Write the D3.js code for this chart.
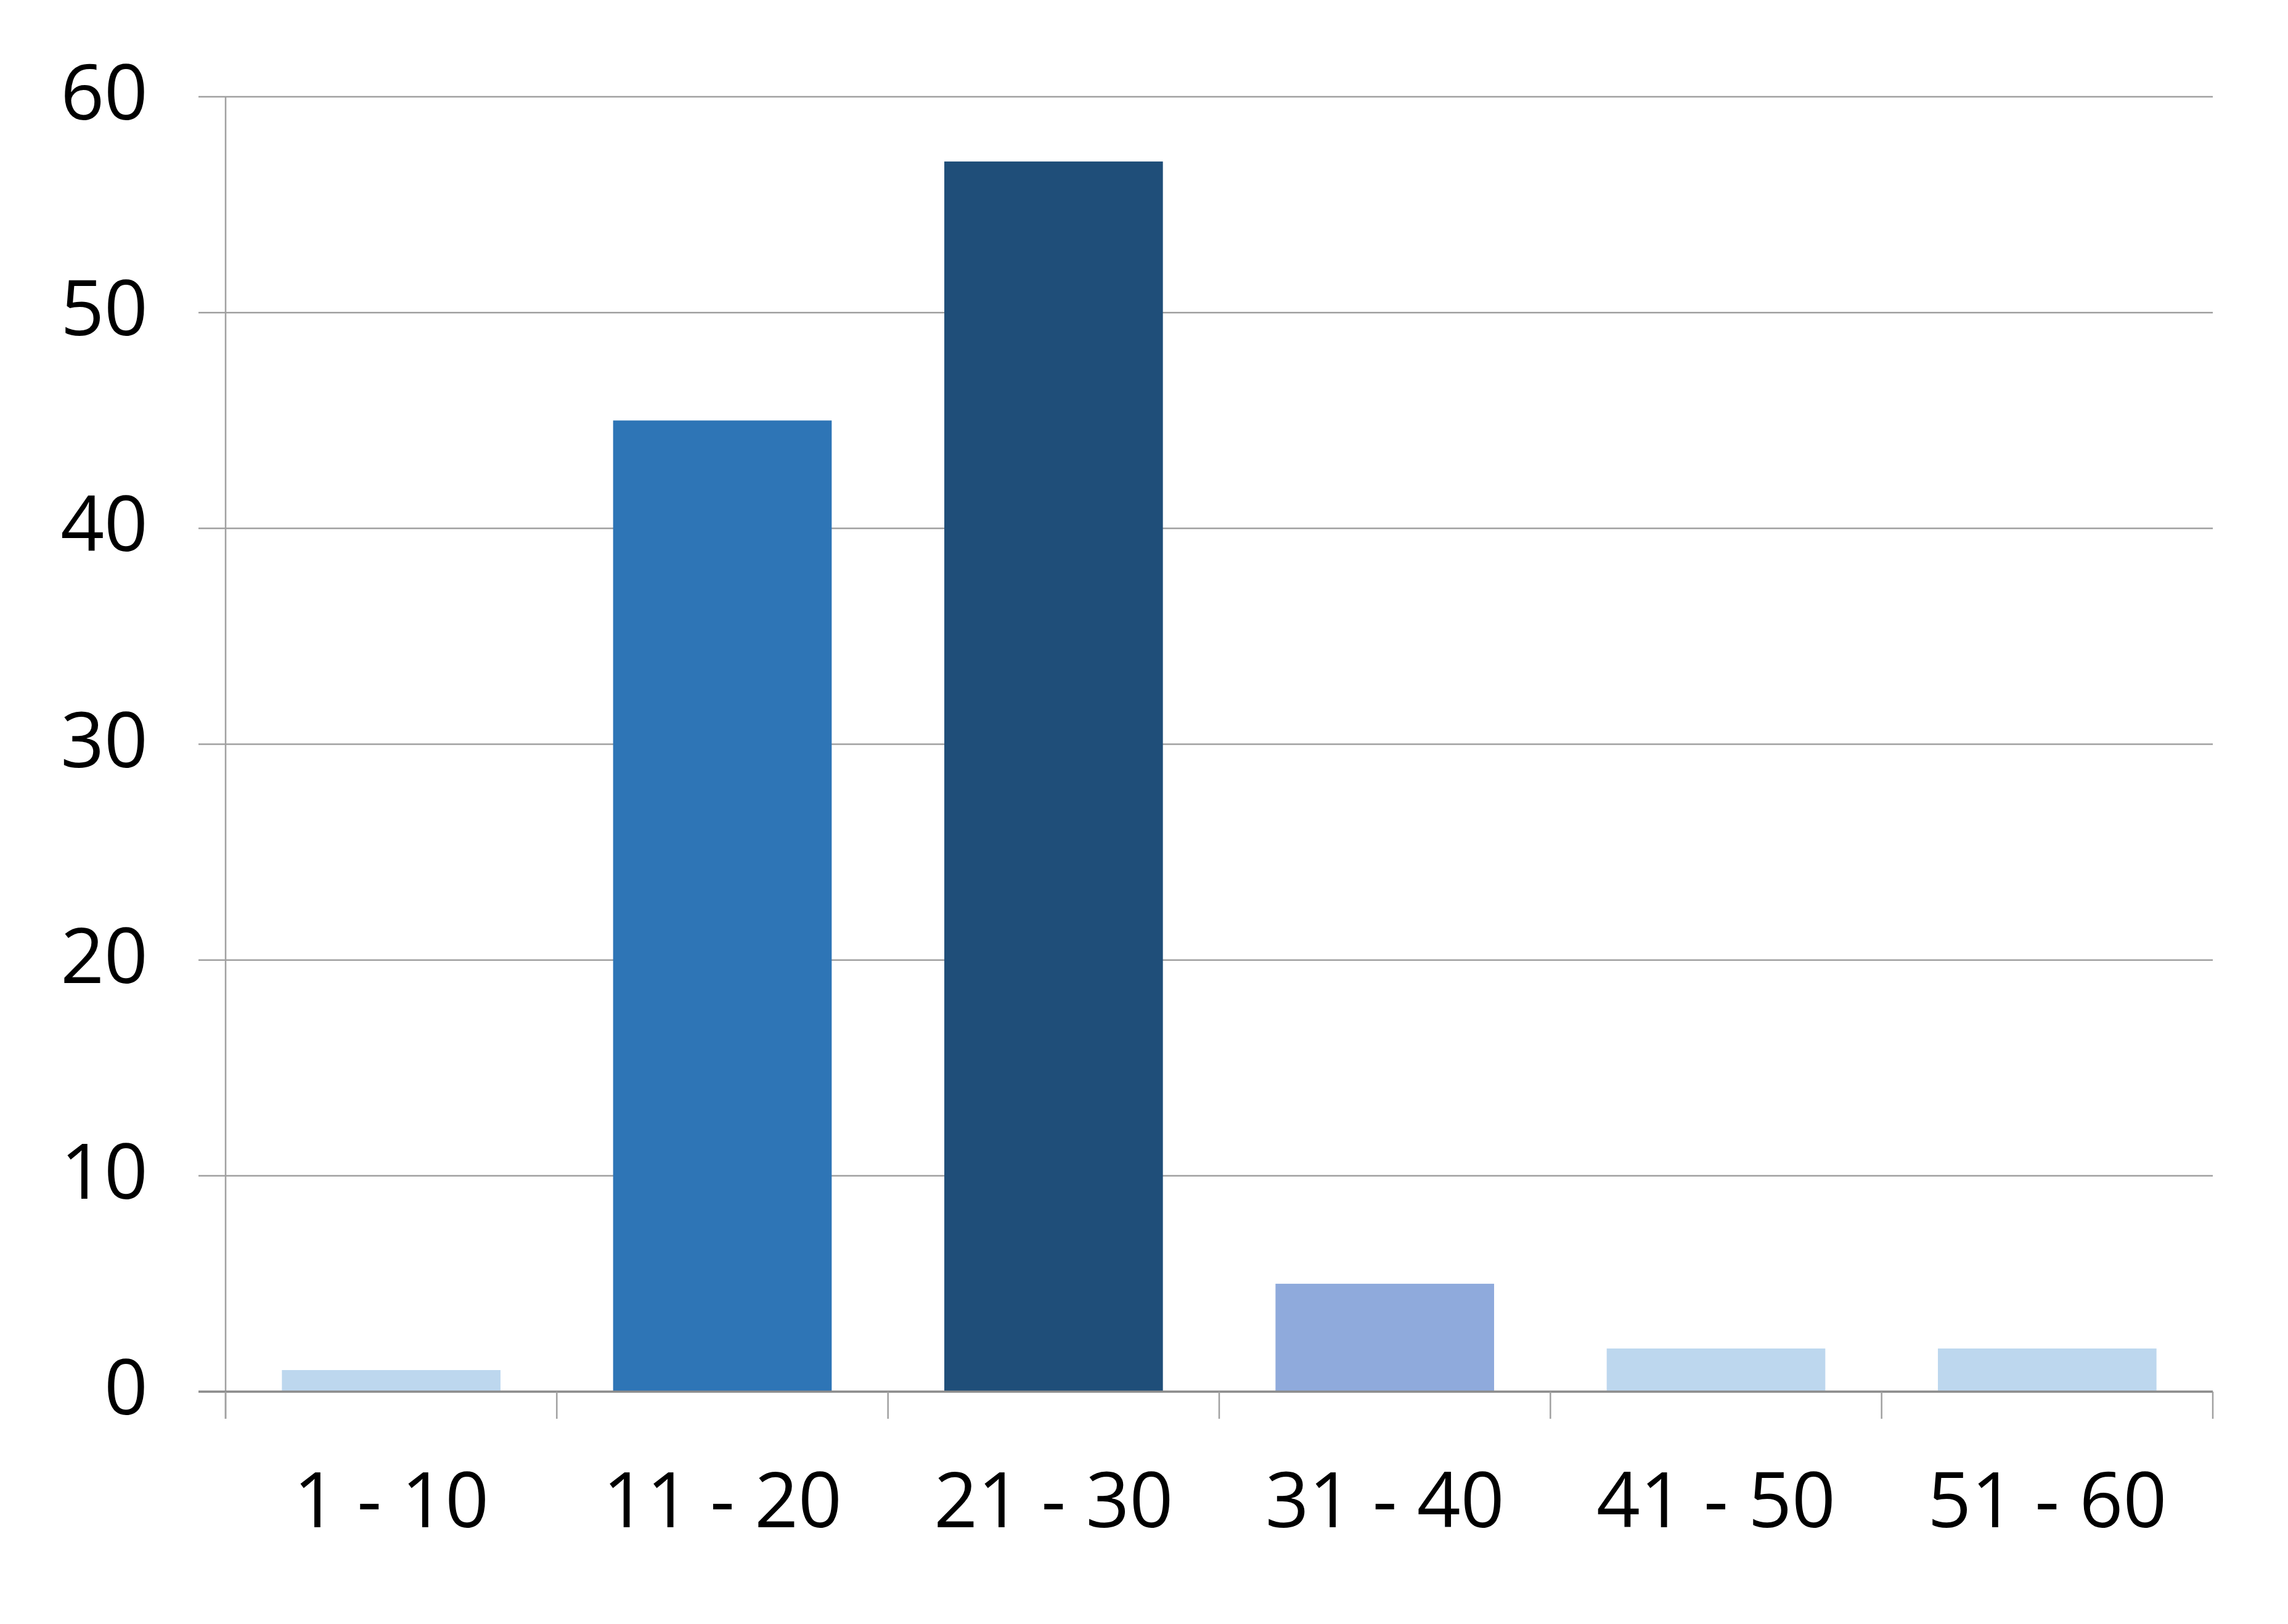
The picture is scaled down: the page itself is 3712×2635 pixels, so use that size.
<!DOCTYPE html>
<html>
<head>
<meta charset="utf-8">
<script src="https://cdn.jsdelivr.net/npm/d3@7"></script>
<style>
  body { margin: 0; background: #fff; }
  text { font-family: "Open Sans", sans-serif; fill: #000; }
</style>
</head>
<body>
<div id="container"></div>
<script>
// Chart data
const categories = ["1 - 10", "11 - 20", "21 - 30", "31 - 40", "41 - 50", "51 - 60"];
const values = [1, 45, 57, 5, 2, 2];
const barColors = ["#BDD7EE", "#2E75B6", "#1F4E79", "#8FAADC", "#BDD7EE", "#BDD7EE"];
const yTicks = [0, 10, 20, 30, 40, 50, 60];

const width = 3712;
const height = 2635;
const margin = { top: 157, right: 122, bottom: 377, left: 366 };

const svg = d3.select("#container")
  .append("svg")
  .attr("width", width)
  .attr("height", height);

svg.append("rect")
  .attr("width", width)
  .attr("height", height)
  .attr("fill", "#fff");

const x = d3.scaleBand()
  .domain(categories)
  .range([margin.left, width - margin.right])
  .paddingInner(0.34)
  .paddingOuter(0.17);

const y = d3.scaleLinear()
  .domain([0, 60])
  .range([height - margin.bottom, margin.top]);

// Horizontal gridlines with short ticks on the left
const yAxis = d3.axisLeft(y)
  .tickValues(yTicks)
  .tickSize(-(width - margin.right - margin.left))
  .tickFormat("")
  .offset(0);

const grid = svg.append("g")
  .attr("transform", `translate(${margin.left},0)`)
  .call(yAxis);
grid.select(".domain").remove();
grid.selectAll(".tick line")
  .attr("x1", -44)
  .attr("stroke", "#A0A0A0")
  .attr("stroke-width", 2.5);

// Y labels
svg.append("g")
  .selectAll("text")
  .data(yTicks)
  .join("text")
  .attr("x", 240)
  .attr("y", (d) => y(d) + 37)
  .attr("text-anchor", "end")
  .style("font-size", "124px")
  .text((d) => d);

// Left axis line
svg.append("line")
  .attr("x1", margin.left)
  .attr("x2", margin.left)
  .attr("y1", y(60))
  .attr("y2", y(0) + 44)
  .attr("stroke", "#A0A0A0")
  .attr("stroke-width", 2.5);

// Bars
svg.append("g")
  .selectAll("rect")
  .data(values)
  .join("rect")
  .attr("x", (d, i) => x(categories[i]))
  .attr("y", (d) => y(d))
  .attr("width", x.bandwidth())
  .attr("height", (d) => y(0) - y(d))
  .attr("fill", (d, i) => barColors[i]);

// Bottom axis with category boundary ticks
const step = x.step();
const boundaries = d3.range(categories.length + 1).map((i) => margin.left + i * step);

svg.append("line")
  .attr("x1", margin.left - 44)
  .attr("x2", width - margin.right)
  .attr("y1", y(0))
  .attr("y2", y(0))
  .attr("stroke", "#8C8C8C")
  .attr("stroke-width", 3.5);

svg.append("g")
  .selectAll("line")
  .data(boundaries)
  .join("line")
  .attr("x1", (d) => d)
  .attr("x2", (d) => d)
  .attr("y1", y(0))
  .attr("y2", y(0) + 44)
  .attr("stroke", "#A0A0A0")
  .attr("stroke-width", 2.5);

// X labels
svg.append("g")
  .selectAll("text")
  .data(categories)
  .join("text")
  .attr("x", (d) => x(d) + x.bandwidth() / 2)
  .attr("y", 2478)
  .attr("text-anchor", "middle")
  .style("font-size", "124px")
  .text((d) => d);
</script>
</body>
</html>
